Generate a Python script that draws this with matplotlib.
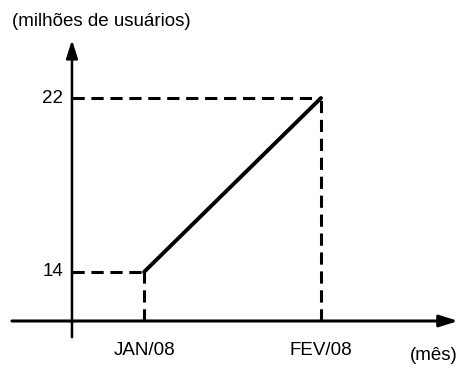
import matplotlib.pyplot as plt

# data
months = ["JAN/08", "FEV/08"]
month_pos = [1, 2]
users = [14, 22]

plt.rcParams['font.family'] = ['Liberation Sans', 'DejaVu Sans']

fig = plt.figure(figsize=(4.6, 3.74), dpi=100)
ax = fig.add_axes([0, 0, 1, 1])
ax.set_xlim(0.1864, 2.785)
ax.set_ylim(9.31, 26.506)
ax.axis('off')

x0 = 0.593   # where the y axis sits
y0 = 11.747  # where the x axis sits

# axes with arrows
ax.annotate('', xy=(x0, 24.67), xytext=(x0, 11.0),
            arrowprops=dict(arrowstyle='-|>,head_width=0.35,head_length=1.1',
                            color='black', lw=1.8, shrinkA=0, shrinkB=0))
ax.annotate('', xy=(2.774, y0), xytext=(0.254, y0),
            arrowprops=dict(arrowstyle='-|>,head_width=0.35,head_length=1.1',
                            color='black', lw=2.2, shrinkA=0, shrinkB=0))

# dashed guide lines
for xp, yv in zip(month_pos, users):
    ax.plot([x0, xp], [yv, yv], color='black', lw=2.2, ls=(0, (4, 2.2)))
    ax.plot([xp, xp], [y0, yv], color='black', lw=2.2, ls=(0, (4, 2.2)))

# main line
ax.plot(month_pos, users, color='black', lw=2.8, solid_capstyle='round')

# labels
for xp, m in zip(month_pos, months):
    ax.text(xp, y0 - 1.35, m, ha='center', va='center', fontsize=13.5)
for yv in users:
    ax.text(x0 - 0.05, yv, str(yv), ha='right', va='center', fontsize=13.5)

ax.text(0.254, 25.5, "(milhões de usuários)", ha='left', va='center', fontsize=13.5)
ax.text(2.77, y0 - 1.6, "(mês)", ha='right', va='center', fontsize=13.5)

fig.savefig('out.png', dpi=100)
